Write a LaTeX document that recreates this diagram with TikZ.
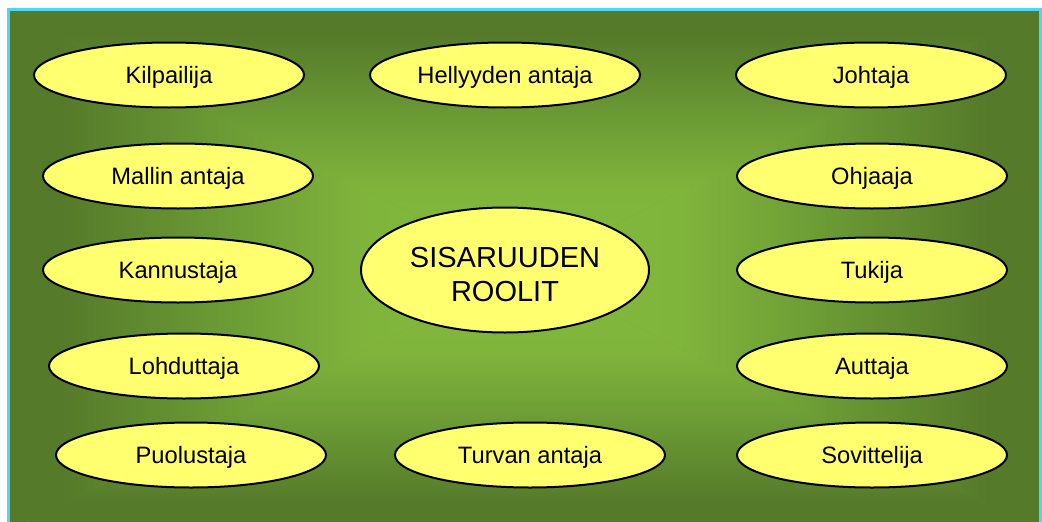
\documentclass[tikz,border=0pt]{standalone}
\usepackage{fontspec}
\setmainfont{Liberation Sans}
\usetikzlibrary{shapes.geometric}
\definecolor{bgdark}{HTML}{557A2A}
\definecolor{bgmid}{HTML}{6A9934}
\definecolor{bgbright}{HTML}{80B53C}
\definecolor{bglight}{HTML}{89C041}
\definecolor{roleyellow}{HTML}{FFFF70}
\definecolor{framecyan}{HTML}{4ED6F2}
\pgfdeclareverticalshading{edgefade}{100bp}{%
  color(0bp)=(bglight); color(40bp)=(bgbright); color(55bp)=(bgmid);
  color(70bp)=(bgdark); color(100bp)=(bgdark)}
\tikzset{
  role/.style={ellipse, draw=black, line width=2pt, fill=roleyellow,
    minimum width=270pt, minimum height=65pt, inner sep=0pt,
    text height=17pt, text depth=0pt,
    font=\fontsize{23.7}{28}\selectfont},
  hub/.style={ellipse, draw=black, line width=2pt, fill=roleyellow,
    minimum width=288pt, minimum height=125pt, inner sep=0pt},
  hubtext/.style={inner sep=0pt, align=center,
    font=\fontsize{29}{34}\selectfont}
}
\begin{document}
\begin{tikzpicture}[x=1pt,y=-1pt]
\useasboundingbox (0,0) rectangle (1042,522);
\coordinate (tl) at (8.5,9);
\coordinate (tr) at (1040.5,9);
\coordinate (bl) at (8.5,531);
\coordinate (br) at (1040.5,531);
\coordinate (gc) at (524.5,270);
\fill[bgmid] (tl) rectangle (br);
\shade[shading=edgefade, shading angle=0] (tl) -- (tr) -- (gc) -- cycle;
\shade[shading=edgefade, shading angle=180] (bl) -- (br) -- (gc) -- cycle;
\shade[shading=edgefade, shading angle=90] (tl) -- (bl) -- (gc) -- cycle;
\shade[shading=edgefade, shading angle=270] (tr) -- (br) -- (gc) -- cycle;
\draw[framecyan, line width=3pt] (tl) rectangle (br);
% left column
\node[role] (kil) at (169,75) {Kilpailija};
\node[role] (mal) at (178,176) {Mallin antaja};
\node[role] (kan) at (178,270) {Kannustaja};
\node[role] (loh) at (184,366) {Lohduttaja};
\node[role] (puo) at (191,455) {Puolustaja};
% middle column
\node[role] (hel) at (505,75) {Hellyyden antaja};
\node[hub] (sis) at (505,270) {};
\node[hubtext] (sistext) at (505,274.5) {SISARUUDEN\\ROOLIT};
\node[role] (tur) at (530,455) {Turvan antaja};
% right column
\node[role] (joh) at (871,75) {Johtaja};
\node[role] (ohj) at (872,176) {Ohjaaja};
\node[role] (tuk) at (872,270) {Tukija};
\node[role] (aut) at (872,366) {Auttaja};
\node[role] (sov) at (872,455) {Sovittelija};
\end{tikzpicture}
\end{document}
